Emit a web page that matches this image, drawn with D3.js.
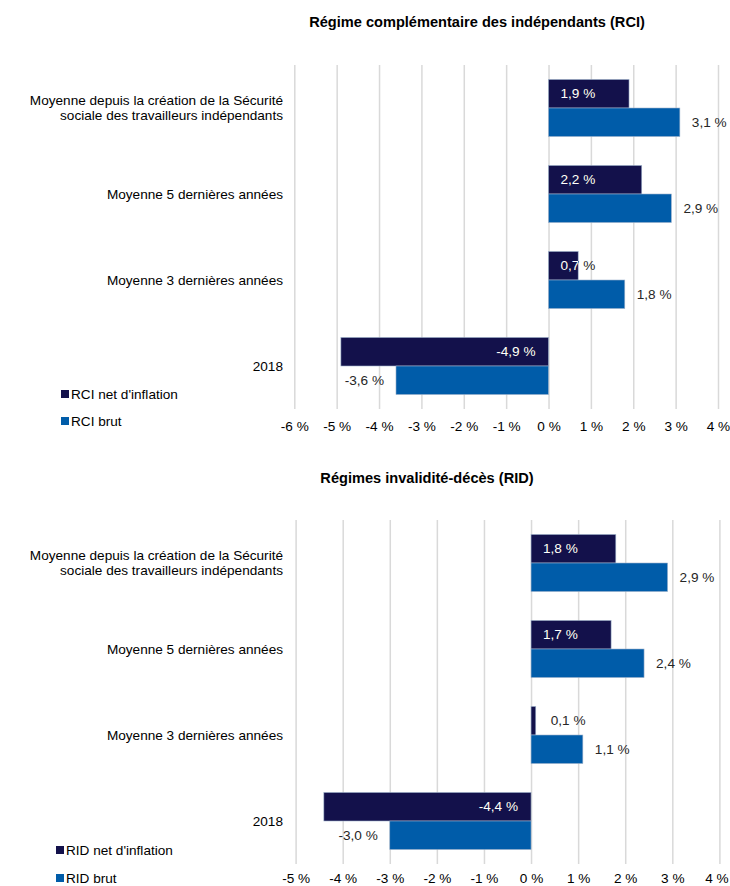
<!DOCTYPE html>
<html>
<head>
<meta charset="utf-8">
<script src="https://cdn.jsdelivr.net/npm/d3@7/dist/d3.min.js"></script>
<style>
  html, body { margin: 0; padding: 0; background: #fff; }
  svg text { font-family: "Liberation Sans", Arial, sans-serif; }
</style>
</head>
<body>
<svg id="chart" width="730" height="886"></svg>
<script>
// ---------- DATA ----------
const categories = [
  "Moyenne depuis la création de la Sécurité|sociale des travailleurs indépendants",
  "Moyenne 5 dernières années",
  "Moyenne 3 dernières années",
  "2018"
];
const rciNet  = [1.9, 2.2, 0.7, -4.9];
const rciBrut = [3.1, 2.9, 1.8, -3.6];
const ridNet  = [1.8, 1.7, 0.1, -4.4];
const ridBrut = [2.9, 2.4, 1.1, -3.0];
const rciTicks = [-6, -5, -4, -3, -2, -1, 0, 1, 2, 3, 4];
const ridTicks = [-5, -4, -3, -2, -1, 0, 1, 2, 3, 4];
const rciSeriesNames = ["RCI net d'inflation", "RCI brut"];
const ridSeriesNames = ["RID net d'inflation", "RID brut"];
const rciTitle = "Régime complémentaire des indépendants (RCI)";
const ridTitle = "Régimes invalidité-décès (RID)";

// ---------- STYLE / LAYOUT ----------
const colNet = "#13114b";
const colBrut = "#005ca9";
const gridCol = "#d9d9d9";
const fontSize = 13.6;
const titleSize = 14.6;

const svg = d3.select("#chart");
const fmt = v => d3.format(".1f")(v).replace("\u2212", "-").replace(".", ",") + " %";

function drawChart(cfg) {
  const g = svg.append("g");
  const x = d3.scaleLinear().domain(cfg.domain).range(cfg.xRange);
  const y = d3.scaleBand().domain(categories).range(cfg.yRange)
    .paddingInner(0.336).paddingOuter(0.168);
  const sub = d3.scaleBand().domain(["net", "brut"]).range([0, y.bandwidth()]);

  // title
  g.append("text").attr("x", cfg.titleX).attr("y", cfg.titleY)
    .attr("text-anchor", "middle").attr("font-weight", "bold")
    .attr("font-size", titleSize).attr("fill", "#000").text(cfg.title);

  // gridlines via axis
  const grid = g.append("g").attr("transform", `translate(0,${cfg.yRange[1]})`)
    .call(d3.axisBottom(x).tickValues(cfg.ticks)
      .tickSize(-(cfg.yRange[1] - cfg.yRange[0])).tickFormat(""));
  grid.select(".domain").remove();
  grid.selectAll(".tick line").attr("stroke", gridCol).attr("stroke-width", 1.5);

  // tick labels via axis
  const ax = g.append("g").attr("transform", `translate(0,${cfg.yRange[1]})`)
    .call(d3.axisBottom(x).tickValues(cfg.ticks).tickSize(0).tickPadding(cfg.tickPad)
      .tickFormat(d => d + " %"));
  ax.select(".domain").remove();
  ax.selectAll(".tick text").attr("font-size", fontSize).attr("fill", "#000")
    .attr("font-family", "Liberation Sans, Arial, sans-serif");
  // keep the last label inside the picture
  ax.selectAll(".tick text").filter(d => d === cfg.ticks[cfg.ticks.length - 1])
    .attr("dx", cfg.lastDx);

  // category labels
  categories.forEach(c => {
    const lines = c.split("|");
    const cy = y(c) + y.bandwidth() / 2;
    const lh = 15;
    lines.forEach((ln, i) => {
      g.append("text").attr("x", cfg.catX)
        .attr("y", cy + (i - (lines.length - 1) / 2) * lh)
        .attr("dy", "0.35em").attr("text-anchor", "end")
        .attr("font-size", fontSize).attr("fill", "#000").text(ln);
    });
  });

  const series = [
    { key: "net", vals: cfg.net, color: colNet },
    { key: "brut", vals: cfg.brut, color: colBrut }
  ];

  series.forEach(s => {
    s.vals.forEach((v, i) => {
      const c = categories[i];
      const by = y(c) + sub(s.key);
      const bh = sub.bandwidth();
      const x0 = x(0), x1 = x(v);
      const bx = Math.min(x0, x1), bw = Math.abs(x1 - x0);
      g.append("rect").attr("x", bx).attr("y", by).attr("width", bw).attr("height", bh)
        .attr("fill", s.color).attr("stroke", "#9fb3cc").attr("stroke-width", 0.6);

      const cy = by + bh / 2;
      if (s.key === "net") {
        let tx, anchor;
        if (v >= 0) {
          tx = bw < 10 ? x1 + 15 : x0 + 12; anchor = "start";
        } else {
          tx = x0 - 13; anchor = "end";
        }
        const clipId = `clip-${cfg.id}-${i}`;
        g.append("clipPath").attr("id", clipId).append("rect")
          .attr("x", bx).attr("y", by).attr("width", bw).attr("height", bh);
        g.append("text").attr("x", tx).attr("y", cy).attr("dy", "0.35em")
          .attr("text-anchor", anchor).attr("font-size", fontSize).attr("fill", "#262626")
          .text(fmt(v));
        g.append("text").attr("x", tx).attr("y", cy).attr("dy", "0.35em")
          .attr("text-anchor", anchor).attr("font-size", fontSize).attr("fill", "#fff")
          .attr("clip-path", `url(#${clipId})`).text(fmt(v));
      } else {
        const tx = v >= 0 ? x1 + 12 : x1 - 12;
        g.append("text").attr("x", tx).attr("y", cy).attr("dy", "0.35em")
          .attr("text-anchor", v >= 0 ? "start" : "end")
          .attr("font-size", fontSize).attr("fill", "#262626").text(fmt(v));
      }
    });
  });

  // legend
  cfg.names.forEach((n, i) => {
    const ly = cfg.legendY[i];
    g.append("rect").attr("x", cfg.legendX).attr("y", ly - 4).attr("width", 8).attr("height", 8)
      .attr("fill", i === 0 ? colNet : colBrut);
    g.append("text").attr("x", cfg.legendX + 10).attr("y", ly).attr("dy", "0.35em")
      .attr("font-size", fontSize).attr("fill", "#000").text(n);
  });
}

drawChart({
  id: "rci", title: rciTitle, titleX: 477, titleY: 27,
  domain: [-6, 4], xRange: [294.3, 718], yRange: [65, 409], ticks: rciTicks, tickPad: 12, lastDx: 0,
  net: rciNet, brut: rciBrut, names: rciSeriesNames,
  catX: 283, legendX: 61, legendY: [394, 421]
});
drawChart({
  id: "rid", title: ridTitle, titleX: 427, titleY: 483,
  domain: [-5, 4], xRange: [295.6, 719.4], yRange: [520, 864], ticks: ridTicks, tickPad: 9, lastDx: -3,
  net: ridNet, brut: ridBrut, names: ridSeriesNames,
  catX: 283, legendX: 56, legendY: [850, 878]
});
</script>
</body>
</html>
